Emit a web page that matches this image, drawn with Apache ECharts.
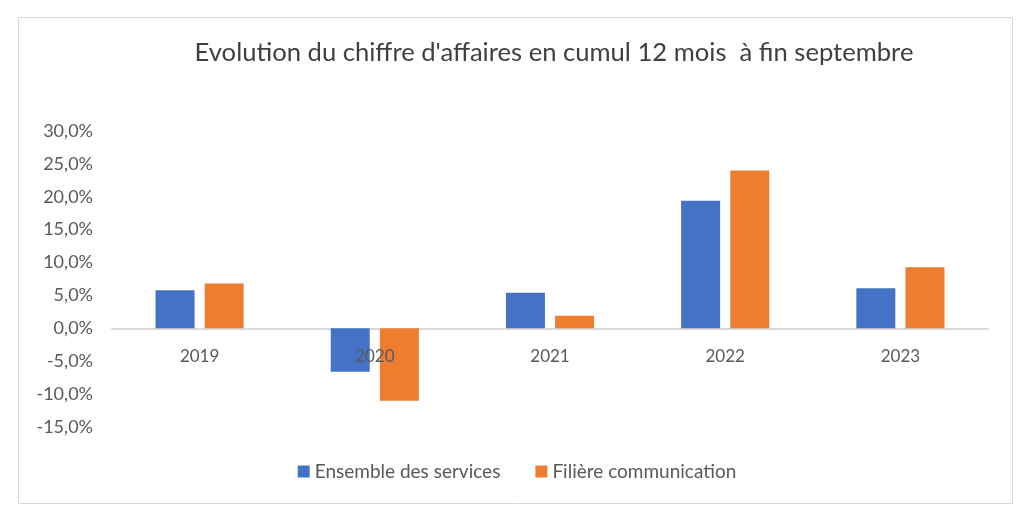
<!DOCTYPE html>
<html>
<head>
<meta charset="utf-8">
<script src="https://cdn.jsdelivr.net/npm/echarts@6/dist/echarts.min.js"></script>
<style>
html,body{margin:0;padding:0;background:#fff;}
#chart{width:1034px;height:528px;}
</style>
</head>
<body>
<div id="chart"></div>
<script>
var categories = ['2019', '2020', '2021', '2022', '2023'];
var ensembleServices = [5.8, -6.6, 5.4, 19.4, 6.1];
var filiereCommunication = [6.8, -11.0, 1.9, 24.0, 9.3];
var seriesNames = ['Ensemble des services', 'Filière communication'];
var titleText = "Evolution du chiffre d'affaires en cumul 12 mois  à fin septembre";

var chart = echarts.init(document.getElementById('chart'));
var font = 'Lato';
chart.setOption({
  backgroundColor: '#ffffff',
  animation: false,
  graphic: [{
    type: 'rect',
    shape: {x: 18.5, y: 17.5, width: 994, height: 486},
    style: {fill: 'none', stroke: '#d9d9d9', lineWidth: 1},
    silent: true
  }],
  title: {
    text: titleText,
    left: 549, top: 35, textAlign: 'center',
    textStyle: {fontFamily: font, fontSize: 25.6, fontWeight: 'normal', color: '#404040'}
  },
  legend: {
    data: seriesNames,
    top: 457, left: 'center',
    itemWidth: 12, itemHeight: 12, itemGap: 35,
    icon: 'rect',
    textStyle: {fontFamily: font, fontSize: 19, color: '#595959'}
  },
  grid: {left: 112, right: 46, top: 131, bottom: 101, containLabel: false},
  xAxis: [{
    type: 'category',
    data: categories,
    axisLine: {onZero: true, lineStyle: {color: '#d9d9d9', width: 2}},
    axisTick: {show: false},
    axisLabel: {show: false}
  }, {
    type: 'category',
    data: categories,
    position: 'bottom',
    offset: -99,
    z: 10,
    axisLine: {show: false},
    axisTick: {show: false},
    axisLabel: {margin: 20, fontFamily: font, fontSize: 17, color: '#595959'}
  }],
  yAxis: {
    type: 'value',
    min: -15, max: 30, interval: 5,
    splitLine: {show: false},
    axisLine: {show: false},
    axisTick: {show: false},
    axisLabel: {
      margin: 19, fontFamily: font, fontSize: 18, color: '#595959',
      formatter: function (v) { return v.toFixed(1).replace('.', ',') + '%'; }
    }
  },
  series: [
    {name: seriesNames[0], type: 'bar', data: ensembleServices, itemStyle: {color: '#4472C4'}, barWidth: 39, barGap: '26%'},
    {name: seriesNames[1], type: 'bar', data: filiereCommunication, itemStyle: {color: '#ED7D31'}, barWidth: 39, barGap: '26%'}
  ]
});
</script>
</body>
</html>
